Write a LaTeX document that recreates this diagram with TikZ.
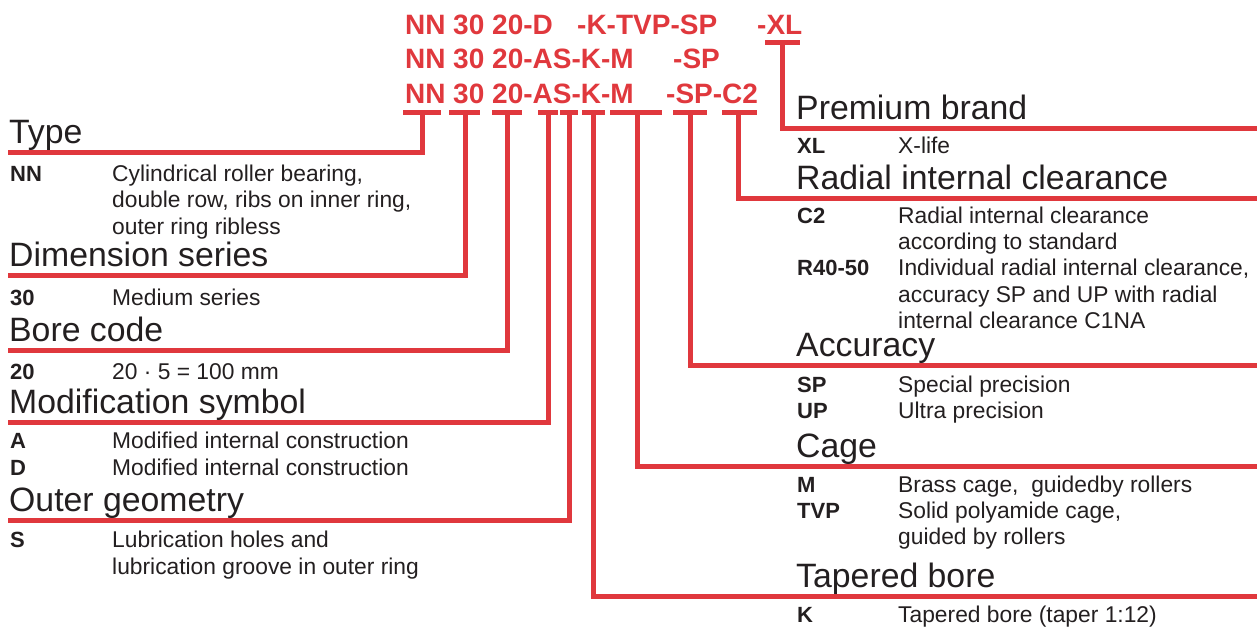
\documentclass[tikz,border=0pt]{standalone}
\usepackage{fontspec}
\setmainfont{Liberation Sans}
\definecolor{brandred}{HTML}{E0383D}
\definecolor{ink}{HTML}{231F20}

\begin{document}
\begin{tikzpicture}[x=1pt, y=-1pt, line join=miter,
	code/.style={anchor=base west, inner sep=0pt, text=brandred, font=\fontsize{28}{30}\selectfont\bfseries},
	head/.style={anchor=base west, inner sep=0pt, text=ink, font=\fontsize{33.8}{36}\selectfont},
	key/.style={anchor=base west, inner sep=0pt, text=ink, font=\fontsize{22}{25}\selectfont\bfseries},
	desc/.style={anchor=base west, inner sep=0pt, text=ink, font=\fontsize{22.8}{25}\selectfont},
	lead/.style={draw=brandred, line width=5pt}]
	\useasboundingbox (0,0) rectangle (1257,626);
	% designation rows
	\foreach \n/\x/\y/\txt in {a1/405/35/NN, a2/453/35/30, a3/492/35/20-D, a4/577/35/-K-TVP-SP, a5/757/35/-XL,
		b1/405/69/NN, b2/453/69/30, b3/492/69/20-AS-K-M, b4/673/69/-SP,
		c1/405/103/NN, c2/453/103/30, c3/492/103/20-AS-K-M, c4/666/103/-SP-C2}
		\node[code] (\n) at (\x,\y) {\txt};
	% bars under the codes
	\foreach \n/\a/\m/\b in {nn/403/422/441, thirty/449/465/480, twenty/492/507/522, a/538/548/558, s/560/569/578,
		k/582/593/605, m/610/637/662, sp/673/690/707, ctwo/722/738/757} {
		\draw[lead] (\a,112.5) -- (\b,112.5);
		\coordinate (s\n) at (\m,112.5);
	}
	\draw[lead] (765,42.5) -- (800,42.5);
	\coordinate (sxl) at (782,42.5);
	% left headings
	\foreach \n/\txt/\yl in {nn/Type/152, thirty/Dimension series/275, twenty/Bore code/350,
		a/Modification symbol/422, s/Outer geometry/520} {
		\coordinate (l\n) at (8,\yl);
		\draw[lead] (l\n) -| (s\n);
		\node[head] (h\n) at (9,\yl-8.5) {\txt};
	}
	% right headings
	\foreach \n/\txt/\yl in {xl/Premium brand/128, ctwo/Radial internal clearance/198, sp/Accuracy/365,
		m/Cage/466, k/Tapered bore/596} {
		\coordinate (l\n) at (1257,\yl);
		\draw[lead] (s\n) |- (l\n);
		\node[head] (h\n) at (796,\yl-8.5) {\txt};
	}
	% keys
	\foreach \n/\x/\y/\txt in {1/10/181/NN, 2/10/305/30, 3/10/379/20, 4/10/448/A, 5/10/475/D, 6/10/547/S,
		7/797/153/XL, 8/797/223/C2, 9/797/275/R40-50, 10/797/392/SP, 11/797/418/UP, 12/797/492/M,
		13/797/518/TVP, 14/797/622/K}
		\node[key] (k\n) at (\x,\y) {\txt};
	% descriptions
	\foreach \n/\x/\y/\txt in {1/112/181/{Cylindrical roller bearing,}, 2/112/207/{double row, ribs on inner ring,},
		3/112/234/outer ring ribless, 4/112/305/Medium series, 5/112/379/20 · 5 = 100 mm,
		6/112/448/Modified internal construction, 7/112/475/Modified internal construction,
		8/112/547/Lubrication holes and, 9/112/574/lubrication groove in outer ring,
		10/898/153/X-life, 11/898/223/Radial internal clearance, 12/898/249/according to standard,
		13/898/275/{Individual radial internal clearance,}, 14/898/302/accuracy SP and UP with radial,
		15/898/328/internal clearance C1NA, 16/898/392/Special precision, 17/898/418/Ultra precision,
		18/898/492/{Brass cage,\ \ guidedby rollers}, 19/898/518/{Solid polyamide cage,},
		20/898/544/guided by rollers, 21/898/622/Tapered bore (taper 1:12)}
		\node[desc] (d\n) at (\x,\y) {\txt};
\end{tikzpicture}
\end{document}
